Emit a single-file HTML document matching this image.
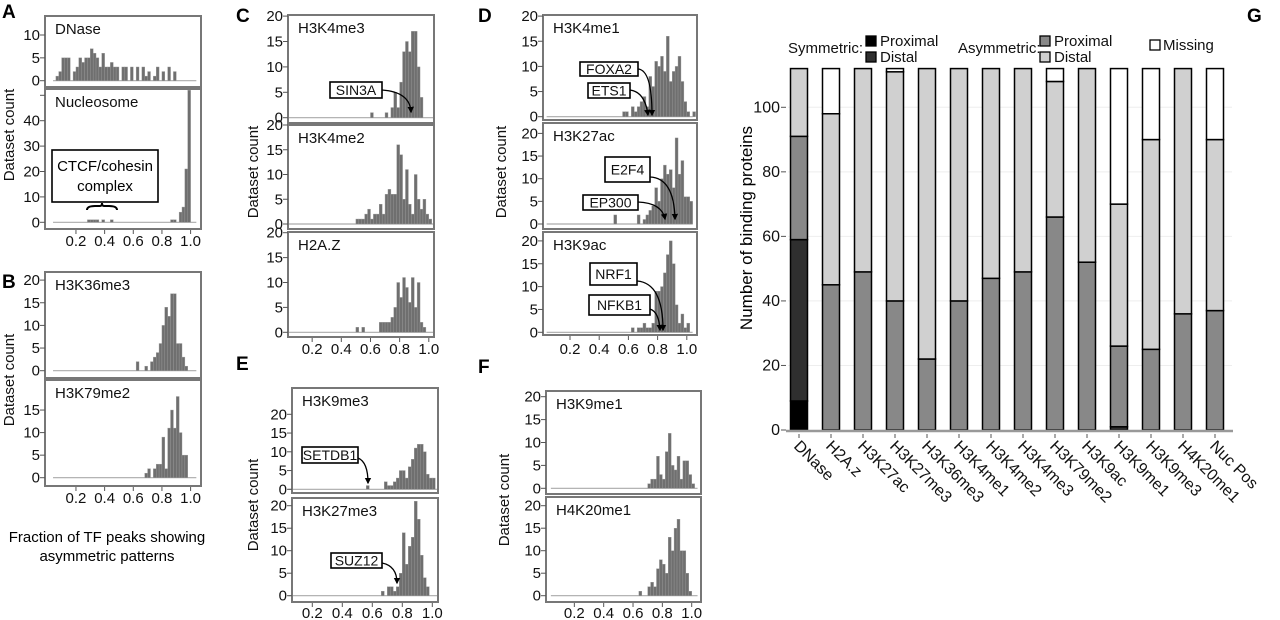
<!DOCTYPE html>
<html><head><meta charset="utf-8"><style>
html,body{margin:0;padding:0;background:#fff;}
svg{display:block;font-family:"Liberation Sans",Arial,sans-serif;}
</style></head><body>
<svg id="fig" width="1280" height="620" viewBox="0 0 1280 620" xmlns="http://www.w3.org/2000/svg">
<defs><marker id="ah" viewBox="0 0 10 10" refX="8" refY="5" markerWidth="5" markerHeight="6" orient="auto"><path d="M0,0 L10,5 L0,10 z" fill="#000"/></marker></defs>
</svg>
<script>
// ---------- Histogram data (bin width 0.02, start = left edge of first bin) ----------
const dnaseStart = 0.06;
const dnaseCounts = [1,2,5,5,5,0,2,3,5,4,5,5,7,6,5,3,6,3,3,4,3,3,0,3,3,0,3,0,3,0,3,1,2,0,1,3,0,2,0,3,0,2,0];
const nucStart = 0.28;
const nucCounts = [1,1,1,1,0,1,0,0,1,0,0,0,0,0,0,0,0,0,0,0,0,0,0,0,0,0,0,0,0,1,1,0,4,6,21,52];
const k36Start = 0.62;
const k36Counts = [2,0,0,1,0,2,3,4,6,10,14,12,17,17,6,6,3,1];
const k79Start = 0.68;
const k79Counts = [1,2,0,2,3,3,9,2,11,15,11,18,10,5,5];
const k4me3Start = 0.60;
const k4me3Counts = [1,0,0,0,0,1,0,2,5,2,7,13,15,13,17,17,10,4,0,0];
const k4me2Start = 0.50;
const k4me2Counts = [1,1,1,2,3,1,2,2,4,2,6,7,6,6,16,14,5,11,4,2,10,5,3,5,2,1];
const h2azStart = 0.50;
const h2azCounts = [1,0,1,0,0,0,0,0,2,2,2,2,3,5,10,7,11,9,6,11,5,10,2,1];
const k4me1Start = 0.56;
const k4me1Counts = [1,1,0,2,1,2,3,4,2,8,6,11,10,12,9,16,7,9,10,12,7,3,1,0,1];
const k27acStart = 0.50;
const k27acCounts = [2,0,0,0,0,0,0,0,2,0,1,2,3,4,8,5,10,13,11,12,8,19,11,14,6,6,5];
const k9acStart = 0.62;
const k9acCounts = [1,0,1,1,2,1,1,2,9,9,10,13,17,20,15,6,2,4,1,2];
const k9me3Start = 0.56;
const k9me3Counts = [1,0,0,0,0,0,2,1,1,2,3,5,5,3,6,8,11,12,12,10,4,3,3];
const k27me3Start = 0.66;
const k27me3Counts = [1,0,2,2,1,2,5,14,7,11,13,21,17,9,4,2];
const k9me1Start = 0.70;
const k9me1Counts = [1,2,2,7,3,2,8,12,5,4,7,2,6,6,3,1];
const k20Start = 0.64;
const k20Counts = [1,0,0,2,3,2,6,8,7,5,13,10,15,17,10,10,5,1];

// ---------- Stacked bar data (panel G) ----------
const gCategories = ["DNase","H2A.z","H3K27ac","H3K27me3","H3K36me3","H3K4me1","H3K4me2","H3K4me3","H3K79me2","H3K9ac","H3K9me1","H3K9me3","H4K20me1","Nuc Pos"];
const symProximal = [9,0,0,0,0,0,0,0,0,0,0,0,0,0];
const symDistal   = [50,0,0,0,0,0,0,0,0,0,1,0,0,0];
const asymProximal= [32,45,49,40,22,40,47,49,66,52,25,25,36,37];
const asymDistal  = [21,53,63,71,90,72,65,63,42,60,44,65,76,53];
const missing     = [0,14,0,1,0,0,0,0,4,0,42,22,0,22];
const gTicks = [0,20,40,60,80,100];

const NS="http://www.w3.org/2000/svg";
const svg=document.getElementById('fig');
function mk(tag,attrs,parent){const e=document.createElementNS(NS,tag);for(const k in attrs)e.setAttribute(k,attrs[k]);(parent||svg).appendChild(e);return e;}
function txt(s,attrs,parent){const e=mk('text',attrs,parent);e.textContent=s;return e;}

const cols={
 AB:{xz:47.3,ppu:143.3,x0:45,x1:201},
 C:{xz:283,ppu:145.8,x0:288,x1:434},
 E:{xz:282.3,ppu:150,x0:292,x1:438},
 D:{xz:540.8,ppu:146,x0:543,x1:697},
 F:{xz:545,ppu:146.7,x0:546,x1:701}
};
const TF={'font-size':15,fill:'#111'};

function hist(col,y0,y1,zeroY,ppc,ticks,title,start,counts,name,extraTick){
  const c=cols[col];
  const g=mk('g',{});
  
  
  const X=v=>c.xz+v*c.ppu, Y=n=>zeroY-n*ppc;
  const base=mk('line',{x1:X(0.04),x2:X(1.04),y1:zeroY,y2:zeroY,stroke:'#aaa','stroke-width':1.2},g);
  
  
  counts.forEach((n,i)=>{
    if(n<=0)return;
    const xl=X(start+0.02*i), xr=X(start+0.02*(i+1));
    const r=mk('rect',{x:xl,y:Y(n),width:xr-xl,height:n*ppc,fill:'#6f6f6f',stroke:'#999','stroke-width':0.4},g);
    
    
  });
  const box=mk('rect',{x:c.x0,y:y0,width:c.x1-c.x0,height:y1-y0,fill:'none',stroke:'#777','stroke-width':2},g);
  
  
  ticks.forEach(t=>{
    mk('line',{x1:c.x0-5,x2:c.x0,y1:Y(t),y2:Y(t),stroke:'#555','stroke-width':1},g);
    const l=txt(String(t),Object.assign({x:c.x0-5,y:Y(t)+5,'text-anchor':'end'},TF),g);
    
    
  });
  if(extraTick!==undefined) mk('line',{x1:c.x0-5,x2:c.x0,y1:Y(extraTick),y2:Y(extraTick),stroke:'#555','stroke-width':1},g);
  const tt=txt(title,{x:c.x0+10,y:y0+18,'font-size':15,fill:'#111'},g);
  
  
  return {X,Y};
}
function xaxis(col,y1,labelY,name){
  const c=cols[col];
  const X=v=>c.xz+v*c.ppu;
  [0.2,0.4,0.6,0.8,1.0].forEach(v=>{
    mk('line',{x1:X(v),x2:X(v),y1:y1+1,y2:y1+5,stroke:'#555','stroke-width':1});
    const l=txt(v.toFixed(1),Object.assign({x:X(v),y:labelY,'text-anchor':'middle'},TF));
    
    
  });
}
function ylab(x,cy,name){
  const t=txt('Dataset count',{x:x,y:cy,'font-size':15,'text-anchor':'middle',transform:`rotate(-90 ${x} ${cy})`,fill:'#111'});
  
  
}
function letter(s,x,y){
  const t=txt(s,{x:x,y:y,'font-size':19,'font-weight':'bold',fill:'#000'});
  
  
}
function callout(label,bx,by,bw,bh,path,name){
  const r=mk('rect',{x:bx,y:by,width:bw,height:bh,fill:'#fff',stroke:'#000','stroke-width':1.6});
  
  
  const t=txt(label,{x:bx+bw/2,y:by+bh/2+5,'font-size':14,'text-anchor':'middle',fill:'#111'});
  
  
  if(path){
    const p=mk('path',{d:path,fill:'none',stroke:'#000','stroke-width':1.3,'marker-end':'url(#ah)'});
    
    
  }
}

// ---------- Panel A ----------
letter('A',2,18);
hist('AB',16,87,80.7,4.57,[0,5,10],'DNase',dnaseStart,dnaseCounts,'dnase');
hist('AB',89,229,222.3,2.54,[0,10,20,30,40],'Nucleosome',nucStart,nucCounts,'nucleosome',50);
xaxis('AB',229,246,'panel-a');
ylab(14,135,'panel-a-y-axis-title');
const ct=mk('rect',{x:52,y:150,width:106,height:52,fill:'#fff',stroke:'#000','stroke-width':1.6});


const ct1=txt('CTCF/cohesin',{x:105,y:171,'font-size':15,'text-anchor':'middle'});


const ct2=txt('complex',{x:105,y:191,'font-size':15,'text-anchor':'middle'});


const br=mk('path',{d:'M87,210 Q87,206 95,206 L100,206 Q102,206 102,203 Q102,206 104,206 L109,206 Q117,206 117,210',fill:'none',stroke:'#000','stroke-width':2});



// ---------- Panel B ----------
letter('B',2,288);
hist('AB',272,378,370.7,4.53,[0,5,10,15,20],'H3K36me3',k36Start,k36Counts,'h3k36me3');
hist('AB',380,486,477.7,4.51,[0,5,10,15],'H3K79me2',k79Start,k79Counts,'h3k79me2');
xaxis('AB',486,503,'panel-b');
ylab(14,380,'panel-b-y-axis-title');
const f1=txt('Fraction of TF peaks showing',{x:107,y:542,'font-size':15,'text-anchor':'middle'});


const f2=txt('asymmetric patterns',{x:107,y:561,'font-size':15,'text-anchor':'middle'});



// ---------- Panel C ----------
letter('C',236,22);
hist('C',15,123,117.7,5.08,[0,5,10,15,20],'H3K4me3',k4me3Start,k4me3Counts,'h3k4me3');
hist('C',125,229,224,4.95,[0,5,10,15,20],'H3K4me2',k4me2Start,k4me2Counts,'h3k4me2');
hist('C',232,337,332.3,4.98,[0,5,10,15,20],'H2A.Z',h2azStart,h2azCounts,'h2az');
xaxis('C',337,354,'panel-c');
ylab(258,172,'panel-c-y-axis-title');
callout('SIN3A',330,82,52,16,'M382,90 Q410,92 411,112','sin3a');

// ---------- Panel D ----------
letter('D',478,22);
hist('D',15,120,116.7,5.03,[0,5,10,15,20],'H3K4me1',k4me1Start,k4me1Counts,'h3k4me1');
hist('D',123,229,224,4.53,[0,5,10,15,20],'H3K27ac',k27acStart,k27acCounts,'h3k27ac');
hist('D',232,335,332.3,4.57,[0,5,10,15,20],'H3K9ac',k9acStart,k9acCounts,'h3k9ac');
xaxis('D',335,354,'panel-d');
ylab(506,172,'panel-d-y-axis-title');
callout('FOXA2',580,62,58,14,'M638,69 Q652,70 652,115','foxa2');
callout('ETS1',588,83,42,15,'M630,90 Q645,92 648,115','ets1');
callout('E2F4',605,157,45,25,'M650,177 Q674,178 675,219','e2f4');
callout('EP300',583,195,55,15,'M638,202 Q662,203 665,219','ep300');
callout('NRF1',590,263,47,22,'M637,281 Q663,283 663,330','nrf1');
callout('NFKB1',589,295,61,20,'M650,309 Q659,312 660,330','nfkb1');

// ---------- Panel E ----------
letter('E',236,370);
hist('E',388,493,489.3,3.75,[0,5,10,15,20],'H3K9me3',k9me3Start,k9me3Counts,'h3k9me3');
hist('E',498,602,595.7,4.5,[0,5,10,15,20],'H3K27me3',k27me3Start,k27me3Counts,'h3k27me3');
xaxis('E',602,618,'panel-e');
ylab(258,505,'panel-e-y-axis-title');
callout('SETDB1',302,447,56,16,'M358,458 Q368,462 368,483','setdb1');
callout('SUZ12',331,553,51,15,'M382,563 Q397,566 397,583','suz12');

// ---------- Panel F ----------
letter('F',478,373);
hist('F',391,494,488.3,4.58,[0,5,10,15,20],'H3K9me1',k9me1Start,k9me1Counts,'h3k9me1');
hist('F',497,602,595.7,4.5,[0,5,10,15,20],'H4K20me1',k20Start,k20Counts,'h4k20me1');
xaxis('F',602,618,'panel-f');
ylab(509,500,'panel-f-y-axis-title');

// ---------- Panel G ----------
letter('G',1247,22);
const gY=v=>430-v*3.227;
const gX=i=>799+i*32;
const bw=17;
gTicks.forEach(t=>{
  if(t>0){const gl=mk('line',{x1:788,x2:1232,y1:gY(t),y2:gY(t),stroke:'#eee','stroke-width':1});
  
  }
  mk('line',{x1:781,x2:786,y1:gY(t),y2:gY(t),stroke:'#555'});
  const l=txt(String(t),{x:780,y:gY(t)+5,'font-size':16,fill:'#111','text-anchor':'end'});
  
  
});
const series=[[symProximal,'#000','sym-proximal'],[symDistal,'#2f2f2f','sym-distal'],[asymProximal,'#888','asym-proximal'],[asymDistal,'#d0d0d0','asym-distal'],[missing,'#fff','missing']];
gCategories.forEach((cat,i)=>{
  let acc=0;
  series.forEach(([arr,col,nm])=>{
    const v=arr[i]; if(v<=0)return;
    const r=mk('rect',{x:gX(i)-bw/2,y:gY(acc+v),width:bw,height:v*3.227,fill:col,stroke:'#000','stroke-width':1.5});
    
    
    acc+=v;
  });
  mk('line',{x1:gX(i),x2:gX(i),y1:434,y2:438,stroke:'#555'});
  const l=txt(cat,{x:gX(i)-6,y:447,'font-size':16,fill:'#111',transform:`rotate(45 ${gX(i)-6} 447)`});
  
  
});
const ax=mk('line',{x1:786,x2:1233,y1:431,y2:431,stroke:'#999','stroke-width':2.5});


const gyt=txt('Number of binding proteins',{x:752,y:228,'font-size':17,'text-anchor':'middle',transform:'rotate(-90 752 228)'});


function lsq(x,y,col,nm){const r=mk('rect',{x:x,y:y,width:10,height:10,fill:col,stroke:'#000','stroke-width':1.3});
 
 }
function ltx(s,x,y,nm){const t=txt(s,{x:x,y:y,'font-size':15,fill:'#111'});
 
 }
ltx('Symmetric:',788,53,'symmetric');
lsq(866,36,'#000','sym-proximal'); ltx('Proximal',880,46,'sym-proximal');
lsq(866,52,'#2f2f2f','sym-distal'); ltx('Distal',880,62,'sym-distal');
ltx('Asymmetric:',958,53,'asymmetric');
lsq(1040,36,'#888','asym-proximal'); ltx('Proximal',1054,46,'asym-proximal');
lsq(1040,52,'#d0d0d0','asym-distal'); ltx('Distal',1054,62,'asym-distal');
lsq(1150,40,'#fff','missing'); ltx('Missing',1163,50,'missing');
</script>
</body></html>
